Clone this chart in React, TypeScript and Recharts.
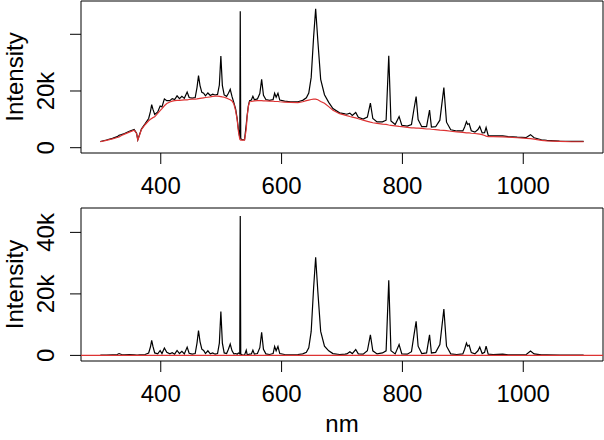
import React from 'react';
import { LineChart, Line, XAxis, YAxis, ReferenceArea, ReferenceLine } from 'recharts';

// wavelength (nm)
const wavelength = [
  300, 310, 320, 328, 331, 335, 340, 348, 356, 360, 362, 365, 368, 374, 380, 383, 385, 387, 390, 395,
  399, 402, 406, 410, 415, 419, 423, 427, 431, 435, 439, 443.7, 447, 452, 457, 460, 462.5, 465, 468, 471,
  474, 478, 482, 486, 490, 494, 497, 499.5, 502, 505, 509, 512, 515, 518, 521, 524, 526.5, 528.5, 530.8, 531.6,
  532.4, 535, 538.7, 541.5, 543, 545, 547, 550, 552.5, 555, 560, 564, 567, 570, 574, 580, 586, 588.5, 591, 594,
  597, 605, 615, 627, 635, 641, 645, 649, 653, 656.4, 660, 664.7, 671, 678, 685, 696, 705, 708, 713, 717,
  722.7, 727, 735, 742, 747, 751, 758, 767, 773, 777.4, 781, 788, 794.5, 799, 808, 815, 818.8, 822.7, 826, 832,
  840, 844.9, 848, 855, 862, 868.6, 873, 880, 890, 900, 903, 906, 908, 910.5, 914, 920, 925, 928, 932, 936,
  938.5, 942, 950, 966, 975, 990, 1005, 1012, 1018, 1030, 1039, 1060, 1080, 1100,
];

// raw spectrum (thousands)
const rawIntensity = [
  2.2, 2.7, 3.3, 3.9, 4.4, 4.6, 5.0, 5.8, 6.4, 5.1, 2.8, 4.7, 6.6, 8.4, 10.3, 12.8, 15.2, 13.6, 11.7, 12.6,
  14.7, 14.4, 17.2, 16.6, 16.6, 17.3, 17.0, 18.3, 17.3, 18.1, 17.4, 19.6, 17.7, 17.5, 17.7, 21.2, 25.4, 21.9, 19.5, 19.2,
  18.3, 19.3, 18.4, 18.9, 18.6, 18.8, 22.1, 32.3, 21.9, 18.6, 18.1, 19.2, 20.6, 18.0, 15.9, 13.6, 10.2, 6.6, 3.5, 48.1,
  3.2, 2.8, 2.8, 8.2, 11.3, 14.8, 16.6, 16.8, 18.1, 16.9, 17.2, 19.1, 24.1, 18.5, 17.0, 16.7, 17.0, 19.2, 17.8, 19.2,
  16.8, 16.4, 16.2, 16.2, 16.7, 17.6, 19.3, 24.8, 39.0, 49.0, 37.7, 24.1, 18.7, 16.0, 13.8, 12.3, 11.9, 11.8, 12.2, 11.4,
  12.4, 10.7, 10.1, 10.8, 15.7, 10.3, 9.1, 9.1, 9.7, 32.4, 9.4, 8.2, 11.0, 7.9, 7.6, 8.2, 13.2, 18.0, 9.9, 7.4,
  7.4, 13.3, 7.3, 7.4, 9.7, 21.2, 9.0, 6.3, 5.9, 5.9, 7.3, 9.2, 8.2, 8.5, 6.0, 5.5, 6.4, 7.5, 5.2, 5.3,
  7.1, 4.3, 4.2, 4.2, 3.9, 3.7, 3.6, 4.6, 3.5, 2.8, 2.6, 2.3, 2.2, 2.2,
];

// fitted baseline (thousands)
const baseline = [
  2.1, 2.6, 3.1, 3.6, 3.8, 4.3, 4.8, 5.5, 6.2, 5.0, 2.7, 4.5, 6.4, 8.1, 9.5, 10.0, 10.3, 10.6, 10.9, 12.1,
  13.1, 13.8, 14.8, 15.6, 16.1, 16.4, 16.6, 16.7, 16.7, 16.8, 16.9, 16.9, 17.0, 17.1, 17.1, 17.2, 17.3, 17.4, 17.5, 17.6,
  17.7, 17.8, 17.9, 18.1, 18.2, 18.2, 18.1, 18.0, 17.9, 17.8, 17.5, 17.2, 16.9, 16.5, 15.4, 13.0, 9.8, 5.8, 3.0, 2.8,
  2.7, 2.7, 2.7, 6.5, 11.0, 14.5, 16.2, 16.3, 16.4, 16.5, 16.6, 16.6, 16.6, 16.5, 16.5, 16.4, 16.4, 16.3, 16.3, 16.3,
  16.2, 16.1, 16.0, 15.9, 16.2, 16.6, 16.8, 17.0, 17.1, 17.1, 16.9, 16.3, 15.7, 14.5, 13.2, 12.0, 11.5, 11.3, 11.0, 10.8,
  10.5, 10.2, 9.7, 9.3, 9.0, 8.8, 8.6, 8.3, 8.2, 8.0, 7.9, 7.7, 7.5, 7.4, 7.2, 7.0, 7.0, 6.9, 6.9, 6.8,
  6.6, 6.6, 6.5, 6.4, 6.2, 6.1, 6.0, 5.8, 5.6, 5.4, 5.3, 5.2, 5.2, 5.2, 5.1, 5.0, 4.9, 4.8, 4.6, 4.3,
  4.1, 3.9, 3.9, 3.8, 3.7, 3.5, 3.3, 3.2, 3.0, 2.6, 2.4, 2.2, 2.1, 2.1,
];

// baseline-corrected spectrum (thousands)
const corrected = [
  0.1, 0.1, 0.2, 0.3, 0.6, 0.3, 0.2, 0.3, 0.2, 0.1, 0.1, 0.2, 0.2, 0.3, 0.8, 2.8, 4.9, 3.0, 0.8, 0.5,
  1.6, 0.6, 2.4, 1.0, 0.5, 0.9, 0.4, 1.6, 0.6, 1.3, 0.5, 2.7, 0.7, 0.4, 0.6, 4.0, 8.1, 4.5, 2.0, 1.6,
  0.6, 1.5, 0.5, 0.8, 0.4, 0.6, 4.0, 14.3, 4.0, 0.8, 0.6, 2.0, 3.7, 1.5, 0.5, 0.6, 0.4, 0.8, 0.5, 45.3,
  0.5, 0.1, 0.1, 1.7, 0.3, 0.3, 0.4, 0.5, 1.7, 0.4, 0.6, 2.5, 7.5, 2.0, 0.5, 0.3, 0.6, 2.9, 1.5, 2.9,
  0.6, 0.3, 0.2, 0.3, 0.5, 1.0, 2.5, 7.8, 21.9, 31.9, 20.8, 7.8, 3.0, 1.5, 0.6, 0.3, 0.4, 0.5, 1.2, 0.6,
  1.9, 0.5, 0.4, 1.5, 6.7, 1.5, 0.5, 0.8, 1.5, 24.4, 1.5, 0.5, 3.5, 0.5, 0.4, 1.2, 6.2, 11.1, 3.0, 0.6,
  0.8, 6.7, 0.8, 1.0, 3.5, 15.1, 3.0, 0.5, 0.3, 0.5, 2.0, 4.0, 3.0, 3.3, 0.9, 0.5, 1.5, 2.7, 0.6, 1.0,
  3.0, 0.4, 0.3, 0.4, 0.2, 0.2, 0.3, 1.4, 0.5, 0.2, 0.2, 0.1, 0.1, 0.1,
];

const xTicks = [400, 600, 800, 1000];
const xDomain: [number, number] = [268, 1132];
const topYTicks = [0, 20, 40];
const topYLabels = ['0', '20k', ''];
const bottomYTicks = [0, 20, 40];
const bottomYLabels = ['0', '20k', '40k'];
const topYDomain: [number, number] = [-1.87, 51.74];
const bottomYDomain: [number, number] = [-1.82, 47.93];
const yTitle = 'Intensity';
const xTitle = 'nm';

const FONT = '"Liberation Sans", Arial, Helvetica, sans-serif';
const RED = '#DD3333';

const data = wavelength.map((w, i) => ({
  nm: w,
  raw: rawIntensity[i],
  base: baseline[i],
  corr: corrected[i],
}));

const makeYTick = (ticks: number[], labels: string[]) => (props: any) => {
  const { x, y, payload } = props;
  const i = ticks.indexOf(payload.value);
  const label = i >= 0 ? labels[i] : '';
  return (
    <text
      x={x}
      y={y}
      transform={`rotate(-90 ${x} ${y})`}
      textAnchor="middle"
      fontSize={24}
      fontFamily={FONT}
      fill="#000"
    >
      {label}
    </text>
  );
};

const yTitleContent = (props: any) => {
  const vb = props.viewBox || {};
  const x = (vb.x || 0) + 23;
  const y = (vb.y || 0) + (vb.height || 0) / 2;
  return (
    <text
      x={x}
      y={y}
      transform={`rotate(-90 ${x} ${y})`}
      textAnchor="middle"
      fontSize={24}
      fontFamily={FONT}
      fill="#000"
    >
      {yTitle}
    </text>
  );
};

const xTitleContent = (props: any) => {
  const vb = props.viewBox || {};
  const x = (vb.x || 0) + (vb.width || 0) / 2;
  const y = (vb.y || 0) + 71;
  return (
    <text x={x} y={y} textAnchor="middle" fontSize={24} fontFamily={FONT} fill="#000">
      {xTitle}
    </text>
  );
};

const tickStyle = { fontSize: 24, fill: '#000', fontFamily: FONT };

export default function App() {
  return (
    <div style={{ position: 'absolute', left: 0, top: 0, width: 604, height: 440, background: '#fff' }}>
      <div style={{ position: 'absolute', left: 0, top: 0 }}>
        <LineChart width={604} height={200} data={data} margin={{ top: 1, right: 1, bottom: 0, left: 0 }}>
          <XAxis
            dataKey="nm"
            type="number"
            domain={xDomain}
            ticks={xTicks}
            allowDataOverflow
            interval={0}
            height={47}
            tickSize={11}
            tickMargin={13}
            axisLine={false}
            tickLine={{ stroke: '#000' }}
            tick={tickStyle}
          />
          <YAxis
            type="number"
            domain={topYDomain}
            ticks={topYTicks}
            allowDataOverflow
            interval={0}
            width={81}
            tickSize={11}
            tickMargin={16}
            axisLine={false}
            tickLine={{ stroke: '#000' }}
            tick={makeYTick(topYTicks, topYLabels)}
            label={{ content: yTitleContent }}
          />
          <ReferenceArea
            x1={xDomain[0]}
            x2={xDomain[1]}
            y1={topYDomain[0]}
            y2={topYDomain[1]}
            fill="none"
            stroke="#000"
            strokeWidth={1}
            ifOverflow="visible"
          />
          <Line type="linear" dataKey="raw" stroke="#000" strokeWidth={1.2} dot={false} activeDot={false} isAnimationActive={false} />
          <Line type="linear" dataKey="base" stroke={RED} strokeWidth={1.2} dot={false} activeDot={false} isAnimationActive={false} />
        </LineChart>
      </div>
      <div style={{ position: 'absolute', left: 0, top: 200 }}>
        <LineChart width={604} height={240} data={data} margin={{ top: 8, right: 1, bottom: 0, left: 0 }}>
          <XAxis
            dataKey="nm"
            type="number"
            domain={xDomain}
            ticks={xTicks}
            allowDataOverflow
            interval={0}
            height={79}
            tickSize={11}
            tickMargin={13}
            axisLine={false}
            tickLine={{ stroke: '#000' }}
            tick={tickStyle}
            label={{ content: xTitleContent }}
          />
          <YAxis
            type="number"
            domain={bottomYDomain}
            ticks={bottomYTicks}
            allowDataOverflow
            interval={0}
            width={81}
            tickSize={11}
            tickMargin={16}
            axisLine={false}
            tickLine={{ stroke: '#000' }}
            tick={makeYTick(bottomYTicks, bottomYLabels)}
            label={{ content: yTitleContent }}
          />
          <ReferenceArea
            x1={xDomain[0]}
            x2={xDomain[1]}
            y1={bottomYDomain[0]}
            y2={bottomYDomain[1]}
            fill="none"
            stroke="#000"
            strokeWidth={1}
            ifOverflow="visible"
          />
          <Line type="linear" dataKey="corr" stroke="#000" strokeWidth={1.2} dot={false} activeDot={false} isAnimationActive={false} />
          <ReferenceLine y={0} stroke={RED} strokeWidth={1.2} ifOverflow="visible" />
        </LineChart>
      </div>
    </div>
  );
}
